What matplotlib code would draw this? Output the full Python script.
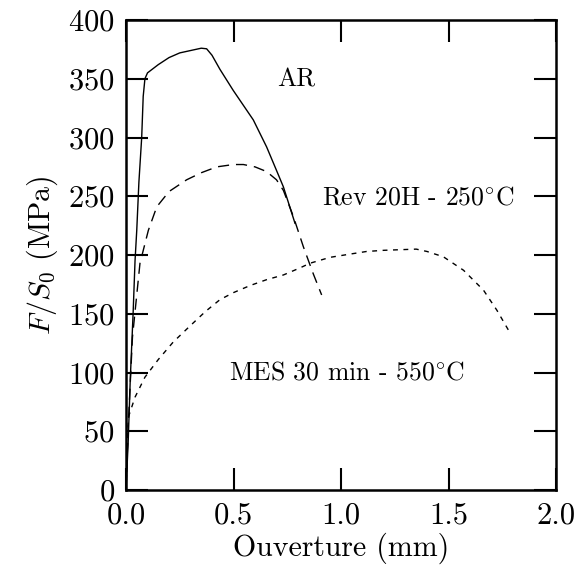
import matplotlib
matplotlib.use("Agg")
import matplotlib.pyplot as plt

plt.rcParams['font.family'] = 'serif'
plt.rcParams['font.serif'] = ['cmr10']
plt.rcParams['mathtext.fontset'] = 'cm'
plt.rcParams['axes.formatter.use_mathtext'] = True

# AR (solid)
ar_x = [0.0, 0.01, 0.02, 0.033, 0.042, 0.05, 0.06, 0.073, 0.08, 0.088, 0.1, 0.15, 0.2, 0.25,
        0.3, 0.35, 0.375, 0.4, 0.437, 0.499, 0.592, 0.654, 0.7, 0.732, 0.76, 0.786]
ar_y = [0, 40, 95, 150, 195, 221, 262, 300, 335, 350, 355, 362, 368, 372,
        374, 376, 375.5, 370, 358, 340, 315, 292, 272, 258, 242, 227]

# Rev 20H - 250°C (dashed)
rev_x = [0.0, 0.011, 0.03, 0.065, 0.104, 0.143, 0.2, 0.282, 0.35, 0.422, 0.5, 0.546, 0.6,
         0.654, 0.7, 0.732, 0.778, 0.825, 0.871, 0.91]
rev_y = [0, 57, 130, 193, 221, 241, 254, 264, 270, 275, 277, 277, 275,
         271, 264, 255, 233, 207, 184, 166]

# MES 30 min - 550°C (dotted)
mes_x = [0.0, 0.011, 0.042, 0.088, 0.15, 0.22, 0.3, 0.37, 0.437, 0.5, 0.577, 0.654, 0.732,
         0.809, 0.856, 0.949, 1.05, 1.119, 1.2, 1.274, 1.35, 1.4, 1.476, 1.57, 1.663,
         1.725, 1.779]
mes_y = [0, 62, 79, 96, 111, 126, 140, 152, 162, 168, 174, 179, 183,
         189, 193, 198, 201, 203, 204, 204.5, 205, 203, 198.5, 187, 170,
         153, 136]

fig = plt.figure(figsize=(5.75, 5.72), dpi=100)
ax = fig.add_axes([126 / 575, 1 - 490 / 572, 430 / 575, 470 / 572])

ax.plot(ar_x, ar_y, color='black', linewidth=1.0, linestyle='-')
ax.plot(rev_x, rev_y, color='black', linewidth=1.0, linestyle=(0, (8, 5)))
ax.plot(mes_x, mes_y, color='black', linewidth=1.0, linestyle=(0, (3.5, 4)))

ax.text(0.793, 349, 'AR', fontsize=18.5, ha='center', va='center')
ax.text(1.36, 249, r'Rev 20H - $250^{\circ}\mathrm{C}$', fontsize=18.5,
        ha='center', va='center')
ax.text(1.03, 100, r'MES 30 min - $550^{\circ}\mathrm{C}$', fontsize=18.5,
        ha='center', va='center')

ax.set_xlim(0, 2)
ax.set_ylim(0, 400)
ax.set_xticks([0.0, 0.5, 1.0, 1.5, 2.0])
ax.set_xticklabels(['0.0', '0.5', '1.0', '1.5', '2.0'])
ax.set_yticks(range(0, 401, 50))
ax.tick_params(direction='in', length=16, width=1.5, top=True, right=True,
               labelsize=22)
ax.tick_params(axis='x', pad=9)
ax.tick_params(axis='y', pad=8)
for s in ax.spines.values():
    s.set_linewidth(1.8)

ax.set_xlabel('Ouverture (mm)', fontsize=21.5, labelpad=2)
ax.set_ylabel(r'$F/S_0$ (MPa)', fontsize=21.5, labelpad=6)

fig.savefig('out.png', dpi=100)
